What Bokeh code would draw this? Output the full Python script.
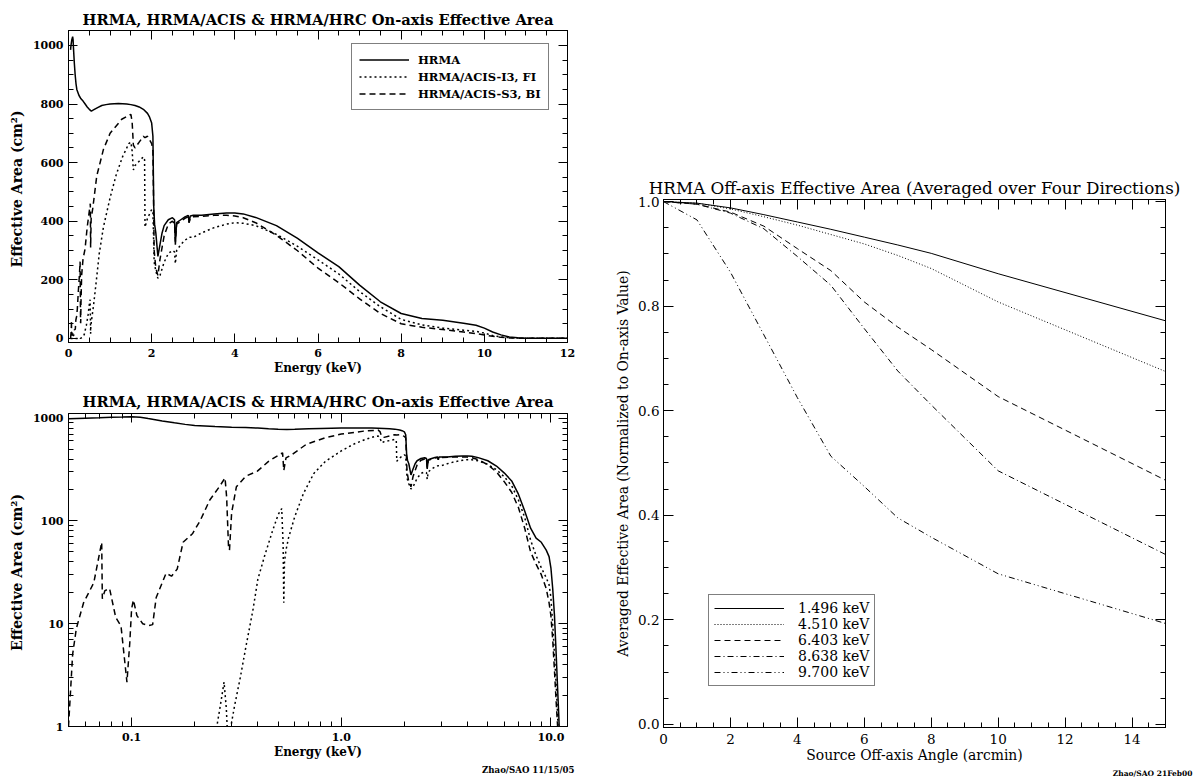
from bokeh.plotting import figure
from bokeh.models import (Range1d, LinearAxis, LogAxis, SingleIntervalTicker, FixedTicker,
                          PrintfTickFormatter, Legend, LegendItem, Title, Spacer)
from bokeh.layouts import row, column
from bokeh.embed import file_html
from bokeh.resources import INLINE

# ---------------- data: on-axis effective area (cm^2) ----------------
hrma_energy = [0.05, 0.06, 0.07, 0.08, 0.09, 0.10, 0.11, 0.12, 0.14, 0.16, 0.18, 0.20,
               0.25, 0.30, 0.35, 0.40, 0.45, 0.50, 0.55, 0.60, 0.70, 0.80, 0.90, 1.00,
               1.20, 1.40, 1.50, 1.60, 1.70, 1.80, 1.90, 1.95, 2.00, 2.03, 2.05, 2.07,
               2.10, 2.15, 2.20, 2.25, 2.30, 2.40, 2.50, 2.55, 2.57, 2.60, 2.70, 2.80,
               2.88, 2.90, 2.93, 3.00, 3.20, 3.50, 3.80, 4.00, 4.20, 4.50, 5.00, 5.50,
               6.00, 6.50, 7.00, 7.50, 8.00, 8.50, 9.00, 9.50, 9.80, 10.00, 10.20, 10.40,
               10.60, 10.80, 10.90, 11.00, 11.50, 12.00]
hrma_area = [985, 1000, 1010, 1020, 1025, 1030, 1020, 990, 940, 900, 870, 850,
             830, 818, 810, 800, 790, 782, 776, 780, 788, 795, 798, 800,
             802, 800, 798, 795, 790, 782, 768, 755, 735, 690, 450, 390,
             360, 280, 320, 360, 385, 405, 412, 405, 320, 395, 405, 415,
             420, 395, 418, 420, 420, 425, 428, 428, 425, 413, 385, 342,
             292, 245, 182, 125, 85, 68, 62, 52, 45, 35, 22, 12,
             5, 2, 1.3, 0.8, 0.4, 0.3]

fi_energy = [0.05, 0.25, 0.255, 0.265, 0.276, 0.283, 0.287, 0.295, 0.30, 0.31,
             0.33, 0.35, 0.38, 0.40, 0.43, 0.47, 0.50, 0.52, 0.528, 0.532,
             0.536, 0.545, 0.56, 0.60, 0.66, 0.74, 0.84, 1.00, 1.15, 1.30,
             1.45, 1.50, 1.53, 1.56, 1.60, 1.70, 1.80, 1.83, 1.84, 1.90,
             2.00, 2.03, 2.06, 2.10, 2.15, 2.20, 2.30, 2.40, 2.50, 2.55,
             2.57, 2.60, 2.70, 2.80, 2.90, 3.00, 3.20, 3.50, 3.80, 4.00,
             4.20, 4.50, 5.00, 5.50, 6.00, 6.50, 7.00, 7.50, 8.00, 8.50,
             9.00, 9.50, 9.80, 10.00, 10.20, 10.40, 10.60, 10.80, 11.00, 12.00]
fi_area = [0.01, 0.01, 1.0, 1.6, 2.7, 1.5, 0.8, 0.9, 1.1, 1.6,
           3.0, 5.8, 14, 27, 45, 80, 115, 132, 60, 16,
           40, 52, 68, 110, 185, 290, 380, 480, 560, 620,
           665, 670, 640, 575, 590, 605, 620, 610, 380, 410,
           440, 430, 260, 230, 205, 215, 260, 290, 300, 295,
           255, 300, 320, 335, 345, 345, 360, 378, 390, 395,
           393, 385, 355, 315, 268, 220, 160, 108, 65, 46,
           35, 28, 24, 18, 10, 5, 2.5, 1.1, 0.5, 0.2]

bi_energy = [0.05, 0.051, 0.0523, 0.0545, 0.059, 0.066, 0.072, 0.0725, 0.0746, 0.0785,
             0.084, 0.089, 0.095, 0.098, 0.100, 0.102, 0.106, 0.113, 0.121, 0.126,
             0.131, 0.146, 0.155, 0.165, 0.176, 0.195, 0.212, 0.236, 0.262, 0.279,
             0.284, 0.290, 0.293, 0.300, 0.316, 0.350, 0.398, 0.450, 0.510, 0.525,
             0.532, 0.545, 0.580, 0.680, 0.840, 1.00, 1.28, 1.50, 1.53, 1.56,
             1.60, 1.70, 1.80, 1.84, 1.90, 2.00, 2.03, 2.06, 2.10, 2.15,
             2.20, 2.30, 2.40, 2.50, 2.55, 2.57, 2.60, 2.70, 2.80, 2.88,
             2.90, 2.93, 3.00, 3.50, 3.80, 4.00, 4.20, 4.50, 5.00, 5.50,
             6.00, 6.50, 7.00, 7.50, 8.00, 8.50, 9.00, 9.50, 9.80, 10.00,
             10.20, 10.40, 10.60, 10.80, 12.00]
bi_area = [1.0, 2.0, 5.0, 9.0, 16, 25, 62, 17.5, 21, 22,
           11.5, 9.5, 2.7, 6.5, 14, 17, 12, 10, 9.6, 9.8,
           18, 31, 29, 34, 62, 75, 100, 160, 215, 262,
           170, 55, 52, 120, 215, 272, 305, 380, 445, 460,
           310, 410, 440, 555, 645, 700, 748, 765, 740, 660,
           650, 670, 690, 685, 690, 665, 640, 300, 240, 215,
           270, 350, 390, 400, 392, 330, 390, 400, 410, 415,
           395, 412, 415, 420, 420, 418, 412, 395, 352, 300,
           240, 190, 135, 85, 50, 38, 30, 22, 16, 12,
           7, 3.5, 1.7, 0.9, 0.2]

onaxis_labels = ["HRMA", "HRMA/ACIS-I3, FI", "HRMA/ACIS-S3, BI"]

# ---------------- data: off-axis normalized effective area ----------------
offaxis_angle = [0, 1, 2, 3, 4, 5, 6, 7, 8, 10, 15]
area_1496 = [1.0, 0.997, 0.988, 0.975, 0.961, 0.947, 0.932, 0.917, 0.901, 0.862, 0.772]
area_4510 = [1.0, 0.997, 0.986, 0.971, 0.955, 0.937, 0.919, 0.897, 0.872, 0.808, 0.675]
area_6403 = [1.0, 0.995, 0.980, 0.953, 0.910, 0.868, 0.808, 0.760, 0.717, 0.627, 0.467]
area_8638 = [1.0, 0.995, 0.978, 0.948, 0.895, 0.840, 0.757, 0.676, 0.611, 0.485, 0.325]
area_9700 = [1.0, 0.965, 0.865, 0.745, 0.625, 0.513, 0.455, 0.395, 0.358, 0.288, 0.193]
offaxis_labels = ["1.496 keV", "4.510 keV", "6.403 keV", "8.638 keV", "9.700 keV"]

LFONT = "DejaVu Serif"
RFONT = "DejaVu Serif"


def style_axis(ax, font, size, bold, maj=9, mnr=5, show=True):
    ax.major_tick_in = maj
    ax.major_tick_out = 0
    ax.minor_tick_in = mnr
    ax.minor_tick_out = 0
    ax.axis_line_color = "black"
    ax.major_tick_line_color = "black"
    ax.minor_tick_line_color = "black"
    ax.major_label_text_font = font
    ax.major_label_text_font_size = size
    ax.major_label_text_font_style = "bold" if bold else "normal"
    ax.axis_label_text_font = font
    ax.axis_label_text_color = "black"
    ax.axis_label_text_font_style = "bold" if bold else "normal"
    if show:
        ax.major_label_text_color = "black"
    else:
        # mirrored tick marks only: labels are not drawn and take no room
        ax.major_label_text_color = None
        ax.major_label_standoff = 0
        ax.axis_label = None


def mirror(p, xticker, yticker, font, xlog=False, ylog=False, maj=9, mnr=5):
    top = LogAxis(ticker=xticker) if xlog else LinearAxis(ticker=xticker)
    rgt = LogAxis(ticker=yticker) if ylog else LinearAxis(ticker=yticker)
    for ax in (top, rgt):
        ax.formatter = PrintfTickFormatter(format="%g")
        style_axis(ax, font, "10px", False, maj, mnr, show=False)
    p.add_layout(top, "above")
    p.add_layout(rgt, "right")


def base_fig(w, h, xr, yr, mb, xtype="linear", ytype="linear"):
    p = figure(width=w, height=h, x_range=xr, y_range=yr, x_axis_type=xtype,
               y_axis_type=ytype, output_backend="svg", toolbar_location=None,
               min_border_left=mb[0], min_border_right=mb[1],
               min_border_top=mb[2], min_border_bottom=mb[3])
    p.xgrid.visible = False
    p.ygrid.visible = False
    p.outline_line_color = "black"
    p.outline_line_width = 1
    p.background_fill_color = "white"
    p.border_fill_color = "white"
    return p


def style_title(t, font, size, bold, standoff=2):
    t.align = "center"
    t.text_font = font
    t.text_font_size = size
    t.text_font_style = "bold" if bold else "normal"
    t.text_color = "black"
    t.standoff = standoff


onaxis_title = "HRMA, HRMA/ACIS & HRMA/HRC On-axis Effective Area"
dash_left = ["solid", "2 3", "6 4"]

# ---------------- top-left: linear ----------------
p1 = base_fig(600, 385, Range1d(0, 12), Range1d(-14, 1051), (68, 33, 30, 43))
p1.title.text = onaxis_title
style_title(p1.title, LFONT, "14.7px", True, standoff=5)
xt1 = SingleIntervalTicker(interval=2, num_minor_ticks=4)
yt1 = SingleIntervalTicker(interval=200, num_minor_ticks=4)
p1.xaxis.ticker = xt1
p1.yaxis.ticker = yt1
p1.xaxis.axis_label = "Energy (keV)"
p1.yaxis.axis_label = "Effective Area  (cm²)"
for ax in (p1.xaxis[0], p1.yaxis[0]):
    style_axis(ax, LFONT, "11px", True)
p1.xaxis.axis_label_text_font_size = "12px"
p1.yaxis.axis_label_text_font_size = "14px"
p1.xaxis.major_label_standoff = 6
p1.xaxis.axis_label_standoff = 1
p1.yaxis.major_label_standoff = 5
p1.yaxis.axis_label_standoff = 5
mirror(p1, xt1, yt1, LFONT)

r_list = []
for xs, ys, dash in zip([hrma_energy, fi_energy, bi_energy],
                        [hrma_area, fi_area, bi_area], dash_left):
    r_list.append(p1.line(xs, ys, line_color="black", line_width=1.5, line_dash=dash))
leg1 = Legend(items=[LegendItem(label=l, renderers=[r]) for l, r in zip(onaxis_labels, r_list)],
              location=(283, 232))
leg1.border_line_color = "black"
leg1.border_line_width = 1
leg1.background_fill_color = "white"
leg1.background_fill_alpha = 1
leg1.glyph_width = 50
leg1.glyph_height = 17
leg1.label_height = 17
leg1.label_standoff = 9
leg1.padding = 7
leg1.spacing = 0
leg1.margin = 0
leg1.label_text_font = LFONT
leg1.label_text_font_style = "bold"
leg1.label_text_font_size = "11.5px"
leg1.label_text_color = "black"
p1.add_layout(leg1)

# ---------------- bottom-left: log-log ----------------
p2 = base_fig(600, 393, Range1d(0.05, 12), Range1d(1, 1110), (68, 33, 28, 52),
              xtype="log", ytype="log")
p2.title.text = onaxis_title
style_title(p2.title, LFONT, "14.7px", True, standoff=7)
xt2 = FixedTicker(ticks=[0.1, 1.0, 10.0],
                  minor_ticks=[0.05, 0.06, 0.07, 0.08, 0.09, 0.2, 0.3, 0.4, 0.5, 0.6, 0.7,
                               0.8, 0.9, 2, 3, 4, 5, 6, 7, 8, 9])
yt2 = FixedTicker(ticks=[1, 10, 100, 1000],
                  minor_ticks=[2, 3, 4, 5, 6, 7, 8, 9, 20, 30, 40, 50, 60, 70, 80, 90,
                               200, 300, 400, 500, 600, 700, 800, 900])
p2.xaxis.ticker = xt2
p2.yaxis.ticker = yt2
p2.xaxis.formatter = PrintfTickFormatter(format="%.1f")
p2.yaxis.formatter = PrintfTickFormatter(format="%d")
p2.xaxis.axis_label = "Energy (keV)"
p2.yaxis.axis_label = "Effective Area  (cm²)"
for ax in (p2.xaxis[0], p2.yaxis[0]):
    style_axis(ax, LFONT, "11px", True)
p2.xaxis.axis_label_text_font_size = "12px"
p2.yaxis.axis_label_text_font_size = "14px"
p2.xaxis.major_label_standoff = 6
p2.xaxis.axis_label_standoff = 1
p2.yaxis.major_label_standoff = 5
p2.yaxis.axis_label_standoff = 5
mirror(p2, xt2, yt2, LFONT, xlog=True, ylog=True)
for xs, ys, dash in zip([hrma_energy, fi_energy, bi_energy],
                        [hrma_area, fi_area, bi_area], dash_left):
    p2.line(xs, ys, line_color="black", line_width=1.5, line_dash=dash)
cred2 = Title(text="Zhao/SAO  11/15/05", align="right", text_font=LFONT,
              text_font_size="8.6px", text_font_style="bold", text_color="black",
              offset=-10, standoff=2)
p2.add_layout(cred2, "below")

# ---------------- right: off-axis ----------------
p3 = base_fig(595, 608, Range1d(0, 15), Range1d(-0.006, 1.004), (63, 30, 29, 51))
p3.title.text = "HRMA Off-axis Effective Area (Averaged over Four Directions)"
style_title(p3.title, RFONT, "16.8px", False, standoff=4)
xt3 = SingleIntervalTicker(interval=2, num_minor_ticks=4)
yt3 = SingleIntervalTicker(interval=0.2, num_minor_ticks=4)
p3.xaxis.ticker = xt3
p3.yaxis.ticker = yt3
p3.yaxis.formatter = PrintfTickFormatter(format="%.1f")
p3.xaxis.axis_label = "Source Off-axis Angle (arcmin)"
p3.yaxis.axis_label = "Averaged Effective Area (Normalized to On-axis Value)"
for ax in (p3.xaxis[0], p3.yaxis[0]):
    style_axis(ax, RFONT, "13.5px", False, maj=10, mnr=5)
    ax.axis_label_text_font_size = "13.9px"
p3.xaxis.major_label_standoff = 6
p3.xaxis.axis_label_standoff = 0
p3.yaxis.major_label_standoff = 4
p3.yaxis.axis_label_standoff = 4
mirror(p3, xt3, yt3, RFONT, maj=10, mnr=5)
dash_right = ["solid", "1 2", "6 4", "6 3 1 3", "6 3 1 3 1 3"]
r3 = []
for ys, dash in zip([area_1496, area_4510, area_6403, area_8638, area_9700], dash_right):
    r3.append(p3.line(offaxis_angle, ys, line_color="black", line_width=1, line_dash=dash))
leg3 = Legend(items=[LegendItem(label=l, renderers=[r]) for l, r in zip(offaxis_labels, r3)],
              location=(45, 41))
leg3.border_line_color = "black"
leg3.border_line_width = 1
leg3.background_fill_color = "white"
leg3.glyph_width = 70
leg3.glyph_height = 14
leg3.label_height = 14
leg3.label_standoff = 14
leg3.padding = 5
leg3.spacing = 0
leg3.margin = 0
leg3.label_text_font = RFONT
leg3.label_text_font_size = "14px"
leg3.label_text_color = "black"
p3.add_layout(leg3)
cred3 = Title(text="Zhao/SAO 21Feb00", align="right", text_font=RFONT,
              text_font_size="7.5px", text_color="black", offset=-27, standoff=2)
p3.add_layout(cred3, "below")

layout = row(column(p1, p2), column(Spacer(width=595, height=170), p3))
open("out.html", "w").write(file_html(layout, INLINE))
